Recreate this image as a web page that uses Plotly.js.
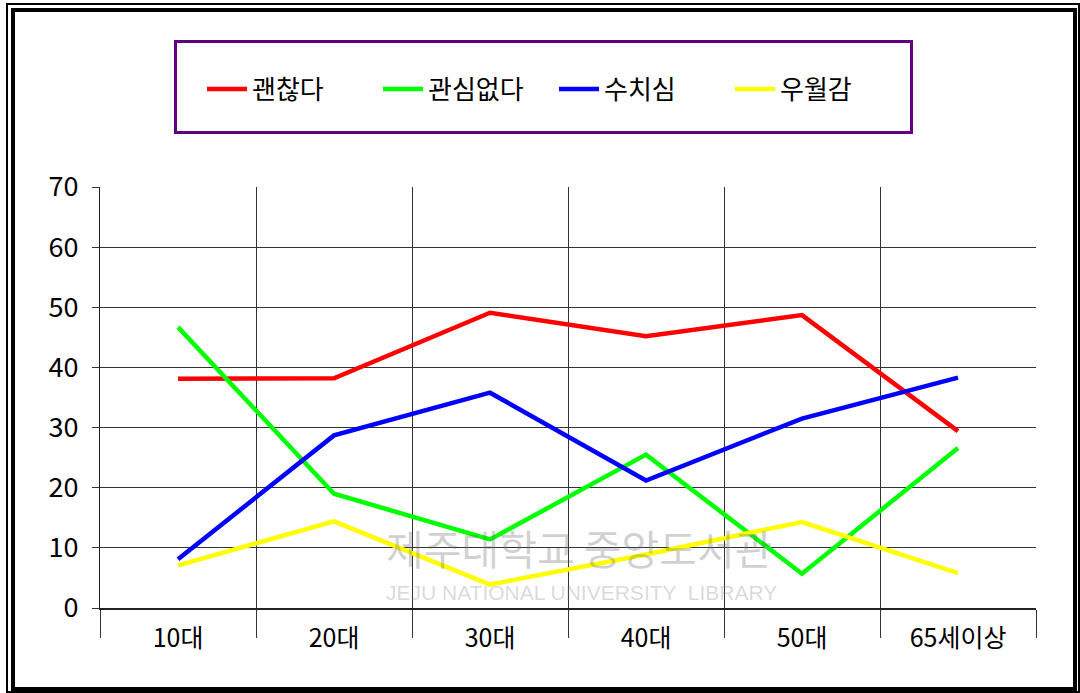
<!DOCTYPE html>
<html>
<head>
<meta charset="utf-8">
<script src="https://cdn.plot.ly/plotly-3.0.1.min.js"></script>
<style>
  html, body { margin: 0; padding: 0; background: #fff; }
  #wrap { position: relative; width: 1080px; height: 693px; overflow: hidden; }
  #chart { position: absolute; left: 0; top: 0; width: 1080px; height: 693px; }
  .frame { position: absolute; box-sizing: border-box; pointer-events: none; border-style: solid; border-color: #000; }
  #outer { left: 6px; top: 3px; width: 1074px; height: 690px; border-width: 2px; }
  #inner { left: 11px; top: 8px; width: 1066px; height: 683px; border-width: 4px; }
</style>
</head>
<body>
<div id="wrap">
  <div id="chart"></div>
  <div class="frame" id="outer"></div>
  <div class="frame" id="inner"></div>
</div>
<script>
const categories = ["10대", "20대", "30대", "40대", "50대", "65세이상"];
const seriesNames = ["괜찮다", "관심없다", "수치심", "우월감"];
const okValues       = [38.1, 38.2, 49.1, 45.2, 48.7, 29.4];
const indifferentVal = [46.7, 19.0, 11.4, 25.5, 5.7, 26.6];
const shameValues    = [8.1, 28.7, 35.8, 21.2, 31.5, 38.3];
const superiorValues = [7.1, 14.4, 3.9, 8.9, 14.3, 5.8];
const yTicks = [0, 10, 20, 30, 40, 50, 60, 70];

const colors = ["#ff0000", "#00ff00", "#0000ff", "#ffff00"];
const allValues = [okValues, indifferentVal, shameValues, superiorValues];

const font = '"Noto Sans CJK KR", "Noto Sans", sans-serif';

const traces = allValues.map((vals, i) => ({
  type: "scatter",
  mode: "lines",
  name: seriesNames[i],
  x: categories,
  y: vals,
  line: { color: colors[i], width: 4.5 },
  hoverinfo: "skip"
}));

// pixel helpers for layout decorations (plot area: x 100..1036, y 187..608)
const L = 100, R = 1036, T = 187, B = 608;
const px = v => (v - L) / (R - L);
const py = v => (B - v) / (B - T);

const layout = {
  width: 1080,
  height: 693,
  margin: { l: L, r: 1080 - R, t: T, b: 693 - B },
  paper_bgcolor: "#ffffff",
  plot_bgcolor: "#ffffff",
  font: { family: font, color: "#000" },
  showlegend: true,
  legend: {
    orientation: "h",
    x: px(202), xanchor: "left",
    y: py(89), yanchor: "middle",
    font: { family: font, size: 26, color: "#000" },
    bgcolor: "rgba(0,0,0,0)",
    borderwidth: 0,
    itemwidth: 40,
    entrywidth: 121,
    entrywidthmode: "pixels",
    itemclick: false
  },
  xaxis: {
    type: "category",
    range: [-0.5, 5.5],
    tickson: "boundaries",
    ticks: "outside",
    ticklen: 28,
    tickwidth: 1,
    tickcolor: "#333",
    showgrid: true,
    gridcolor: "#333",
    gridwidth: 1,
    showline: true,
    linecolor: "#222",
    linewidth: 2,
    zeroline: false,
    ticklabelstandoff: 7,
    tickfont: { family: font, size: 25, color: "#000" },
    fixedrange: true
  },
  yaxis: {
    range: [0, 70],
    tickvals: yTicks,
    ticktext: yTicks.map(String),
    ticks: "outside",
    ticklen: 7,
    tickwidth: 1,
    tickcolor: "#333",
    showgrid: true,
    gridcolor: "#333",
    gridwidth: 1,
    showline: true,
    linecolor: "#222",
    linewidth: 1,
    zeroline: false,
    ticklabelstandoff: 8,
    tickfont: { family: font, size: 27, color: "#000" },
    fixedrange: true
  },
  shapes: [
    {
      type: "rect", xref: "paper", yref: "paper",
      x0: px(175.5), x1: px(911.5), y0: py(132.5), y1: py(41.5),
      line: { color: "#600080", width: 3 },
      fillcolor: "rgba(0,0,0,0)"
    }
  ],
  annotations: [
    {
      xref: "paper", yref: "paper", x: px(579), y: py(547),
      xanchor: "center", yanchor: "middle",
      text: "제주대학교 중앙도서관", showarrow: false,
      font: { family: font, size: 41, color: "rgba(110,110,110,0.33)" }
    },
    {
      xref: "paper", yref: "paper", x: px(581), y: py(592),
      xanchor: "center", yanchor: "middle",
      text: "JEJU NATIONAL UNIVERSITY  LIBRARY", showarrow: false,
      font: { family: '"Liberation Sans", sans-serif', size: 21, color: "rgba(120,120,120,0.28)" }
    }
  ]
};

Plotly.newPlot("chart", traces, layout, { staticPlot: true, displayModeBar: false });
</script>
</body>
</html>
